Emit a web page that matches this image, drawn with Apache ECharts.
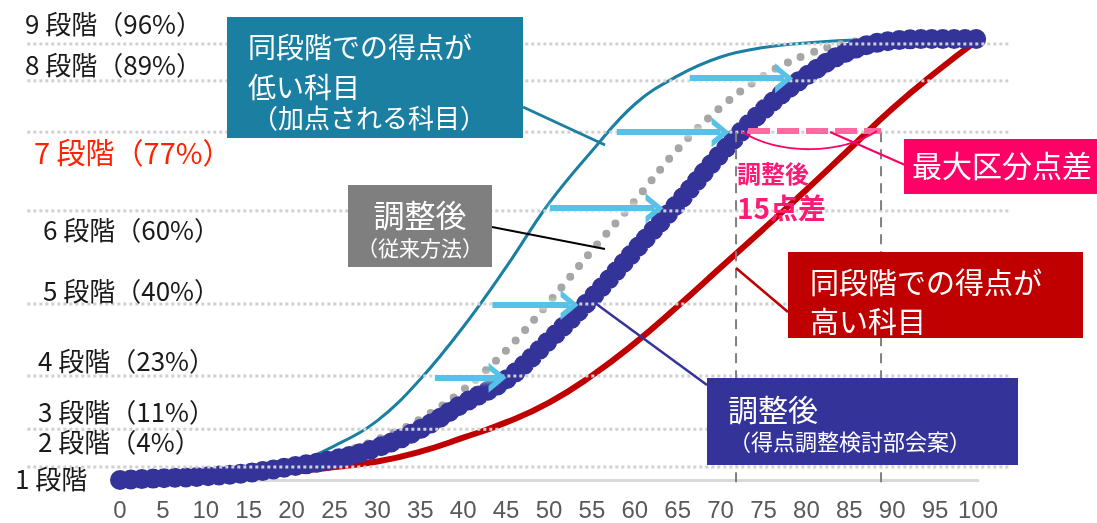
<!DOCTYPE html>
<html>
<head>
<meta charset="utf-8">
<script src="https://cdn.jsdelivr.net/npm/echarts@6/dist/echarts.min.js"></script>
<style>
  html, body { margin: 0; padding: 0; background: #fff; }
  #chart { width: 1097px; height: 523px; }
</style>
</head>
<body>
<div id="chart"></div>
<script>
// 段階の区切り位置（縦軸 0-100）
const levelVals = [2.9, 11.3, 23.1, 39.1, 59.8, 77.3, 88.7, 96.9];
const levelLabels = ['1 段階', '2 段階（4%）', '3 段階（11%）', '4 段階（23%）', '5 段階（40%）',
  '6 段階（60%）', '7 段階（77%）', '8 段階（89%）', '9 段階（96%）'];
const levelFrom = -10.8;
const levelTo = 103.7;

// 同段階での得点が低い科目
const lowSubject = [[0, 0], [10, 0.8], [15, 1.8], [20, 3.6], [25, 7.6], [30, 13.2], [35, 22.4], [40, 34],
  [45, 47.3], [50, 61.5], [55, 73.1], [60, 83.5], [65, 89.8], [70, 94], [75, 96.1], [80, 97.1], [85, 97.7], [90, 98]];
// 調整後（従来方法）
const oldMethod = [[0, 0], [10, 0.8], [20, 3], [25, 5.5], [31, 9.8], [35, 13.5], [40, 20], [45, 28.8],
  [50, 39.5], [55, 51], [60, 62], [65, 73.5], [70, 82.8], [75, 89.8], [80, 94.5], [85, 97.2], [90, 98], [100, 98]];
// 同段階での得点が高い科目
const highSubject = [[0, 0], [10, 0.4], [20, 1.8], [25, 2.9], [30, 4.1], [35, 6.3], [40, 9.4], [45, 12.8],
  [50, 17.2], [55, 23.2], [60, 30.4], [65, 38.6], [70, 47.2], [75, 55.8], [80, 64.5], [85, 73.5],
  [90, 82.5], [95, 90.5], [100, 97.8]];
// 調整後（得点調整検討部会案）
const newMethod = [[0, 0], [5, 0.4], [10, 0.8], [15, 1.6], [20, 3], [25, 4.6], [30, 7.2], [35, 11.3],
  [40, 17], [45, 22.3], [50, 31], [55, 40.5], [60, 51], [65, 61.5], [70, 72.5], [75, 82.2], [80, 89.8],
  [85, 95.3], [90, 97.6], [95, 98], [100, 98]];

// 加点の矢印
const arrowY = [22.7, 38.9, 60.4, 77.3, 89.3];
const arrowFrom = [36.7, 43.4, 50.1, 57.9, 66.4];
const arrowTo = [44.0, 52.4, 62.3, 70.0, 77.4];

// 最大区分点差
const gapFrom = 71.8;
const gapTo = 88.7;
const gapLevel = 77.3;
const gapBottom = -1.6;

const JP = '"Noto Sans CJK JP", "Noto Sans", sans-serif';

// ラベル位置（px）
const labelPos = [[15, 479], [38, 442], [38, 412], [38, 361], [43, 291], [43, 230], [34, 153], [25, 65], [25, 24]];

function txt(x, y, s, size, color, opt) {
  opt = opt || {};
  const align = opt.align || 'left';
  return {
    type: 'text', x: x, y: y, z: 100,
    style: {
      text: s, fill: color,
      font: (opt.bold ? 'bold ' : '') + size + 'px ' + JP,
      align: align, verticalAlign: 'middle',
      textAlign: align, textVerticalAlign: 'middle'
    }
  };
}
function box(x, y, w, h, color) {
  return { type: 'rect', z: 90, shape: { x: x, y: y, width: w, height: h }, style: { fill: color } };
}
function link(x1, y1, x2, y2, color, w) {
  return { type: 'line', z: 80, shape: { x1: x1, y1: y1, x2: x2, y2: y2 }, style: { stroke: color, lineWidth: w } };
}

const graphics = [];
levelLabels.forEach(function (s, i) {
  graphics.push(txt(labelPos[i][0], labelPos[i][1], s, i === 6 ? 29 : 26, i === 6 ? '#ff2200' : '#1a1a1a'));
});

// 低い科目
graphics.push(link(523, 107, 605, 145, '#1b7fa2', 3));
graphics.push(box(227, 17, 296, 121, '#1b7fa2'));
graphics.push(txt(248, 47, '同段階での得点が', 28, '#fff'));
graphics.push(txt(248, 87, '低い科目', 28, '#fff'));
graphics.push(txt(252, 118, '（加点される科目）', 26, '#fff'));

// 従来方法
graphics.push(link(492, 227, 605, 249, '#000', 2));
graphics.push(box(348, 185, 144, 82, '#7f7f7f'));
graphics.push(txt(420, 215, '調整後', 31, '#fff', { align: 'center' }));
graphics.push(txt(420, 248, '（従来方法）', 21, '#fff', { align: 'center' }));

// 高い科目
graphics.push(link(736, 268, 788, 312, '#c00000', 2.5));
graphics.push(box(788, 252, 295, 86, '#c00000'));
graphics.push(txt(810, 283, '同段階での得点が', 29, '#fff'));
graphics.push(txt(810, 322, '高い科目', 29, '#fff'));

// 部会案
graphics.push(link(595, 303, 707, 385, '#333399', 2.5));
graphics.push(box(707, 378, 311, 87, '#333399'));
graphics.push(txt(728, 410, '調整後', 30, '#fff'));
graphics.push(txt(729, 442, '（得点調整検討部会案）', 22, '#fff'));

// 最大区分点差
graphics.push({
  type: 'bezierCurve', z: 80,
  shape: { x1: 742, y1: 132, cpx1: 780, cpy1: 155, cpx2: 840, cpy2: 155, x2: 877, y2: 131 },
  style: { stroke: '#ff0066', lineWidth: 2, fill: null }
});
graphics.push(link(830, 132, 905, 165, '#ff0066', 2));
graphics.push(box(904, 139, 193, 55, '#ff0066'));
graphics.push(txt(912, 166, '最大区分点差', 30, '#fff'));
graphics.push(txt(737, 174, '調整後', 24, '#ff1a75', { bold: true }));
graphics.push(txt(737, 208, '15点差', 28, '#ff1a75', { bold: true }));

const chevron = 'path://M0,18 L15,0 L30,18 L23,18 L15,8 L7,18 Z';

const chart = echarts.init(document.getElementById('chart'));
chart.setOption({
  animation: false,
  grid: { left: 120, right: 119, top: 30, bottom: 43 },
  xAxis: {
    type: 'value', min: 0, max: 100, interval: 5,
    axisLine: { lineStyle: { color: '#d9d9d9', width: 3 } },
    axisTick: { show: false },
    splitLine: { show: false },
    axisLabel: { color: '#595959', fontSize: 24, fontFamily: 'Liberation Sans', margin: 19 }
  },
  yAxis: { type: 'value', min: 0, max: 100, show: false },
  series: [
    {
      name: '同段階での得点が低い科目', type: 'line', data: lowSubject, smooth: 0.4, symbol: 'none', z: 2,
      lineStyle: { color: '#1b7fa2', width: 3 }
    },
    {
      name: '調整後（従来方法）', type: 'line', data: oldMethod, smooth: 0.4, symbol: 'none', z: 2,
      lineStyle: { color: '#a6a6a6', width: 8, type: [0, 14], cap: 'round' }
    },
    {
      name: '同段階での得点が高い科目', type: 'line', data: highSubject, smooth: 0.5, symbol: 'none', z: 2,
      lineStyle: { color: '#c00000', width: 6 }
    },
    {
      name: '調整後（得点調整検討部会案）', type: 'line', data: newMethod, smooth: 0.4, symbol: 'none', z: 3,
      lineStyle: { color: '#333399', width: 20, type: [0, 11], cap: 'round' }
    },
    {
      name: 'gap', type: 'line', data: [], z: 5,
      markLine: {
        silent: true, symbol: 'none', label: { show: false }, animation: false,
        lineStyle: { color: '#ff6aa2', width: 6, type: [22, 7] },
        data: [[{ coord: [gapFrom + 1.4, gapLevel + 0.3] }, { coord: [gapTo, gapLevel + 0.3] }]]
      }
    },
    {
      name: 'arrows', type: 'line', data: [], z: 6,
      markLine: {
        silent: true, symbol: ['none', chevron], symbolSize: [30, 18], label: { show: false }, animation: false,
        lineStyle: { color: '#57c1e8', width: 6, type: 'solid', shadowColor: 'rgba(255,255,255,1)', shadowBlur: 6 },
        data: arrowY.map(function (y, i) { return [{ coord: [arrowFrom[i], y] }, { coord: [arrowTo[i], y] }]; })
      }
    }
  ]
});

// 段階の点線と区分点の縦線は軸の外まで伸びるので、軸の座標から位置を求めて描く
function px(x, y) { return chart.convertToPixel({ gridIndex: 0 }, [x, y]); }
levelVals.forEach(function (v) {
  const a = px(levelFrom, v), b = px(levelTo, v);
  graphics.push({
    type: 'line', z: 4, shape: { x1: a[0], y1: a[1], x2: b[0], y2: b[1] },
    style: { stroke: '#d0d0d0', lineWidth: 3, lineDash: [3, 3] }
  });
});
[gapFrom, gapTo].forEach(function (g) {
  const a = px(g, gapLevel), b = px(g, gapBottom);
  graphics.push({
    type: 'line', z: 4, shape: { x1: a[0], y1: a[1], x2: b[0], y2: b[1] },
    style: { stroke: '#808080', lineWidth: 2, lineDash: [10, 7] }
  });
});
chart.setOption({ graphic: graphics });
</script>
</body>
</html>
